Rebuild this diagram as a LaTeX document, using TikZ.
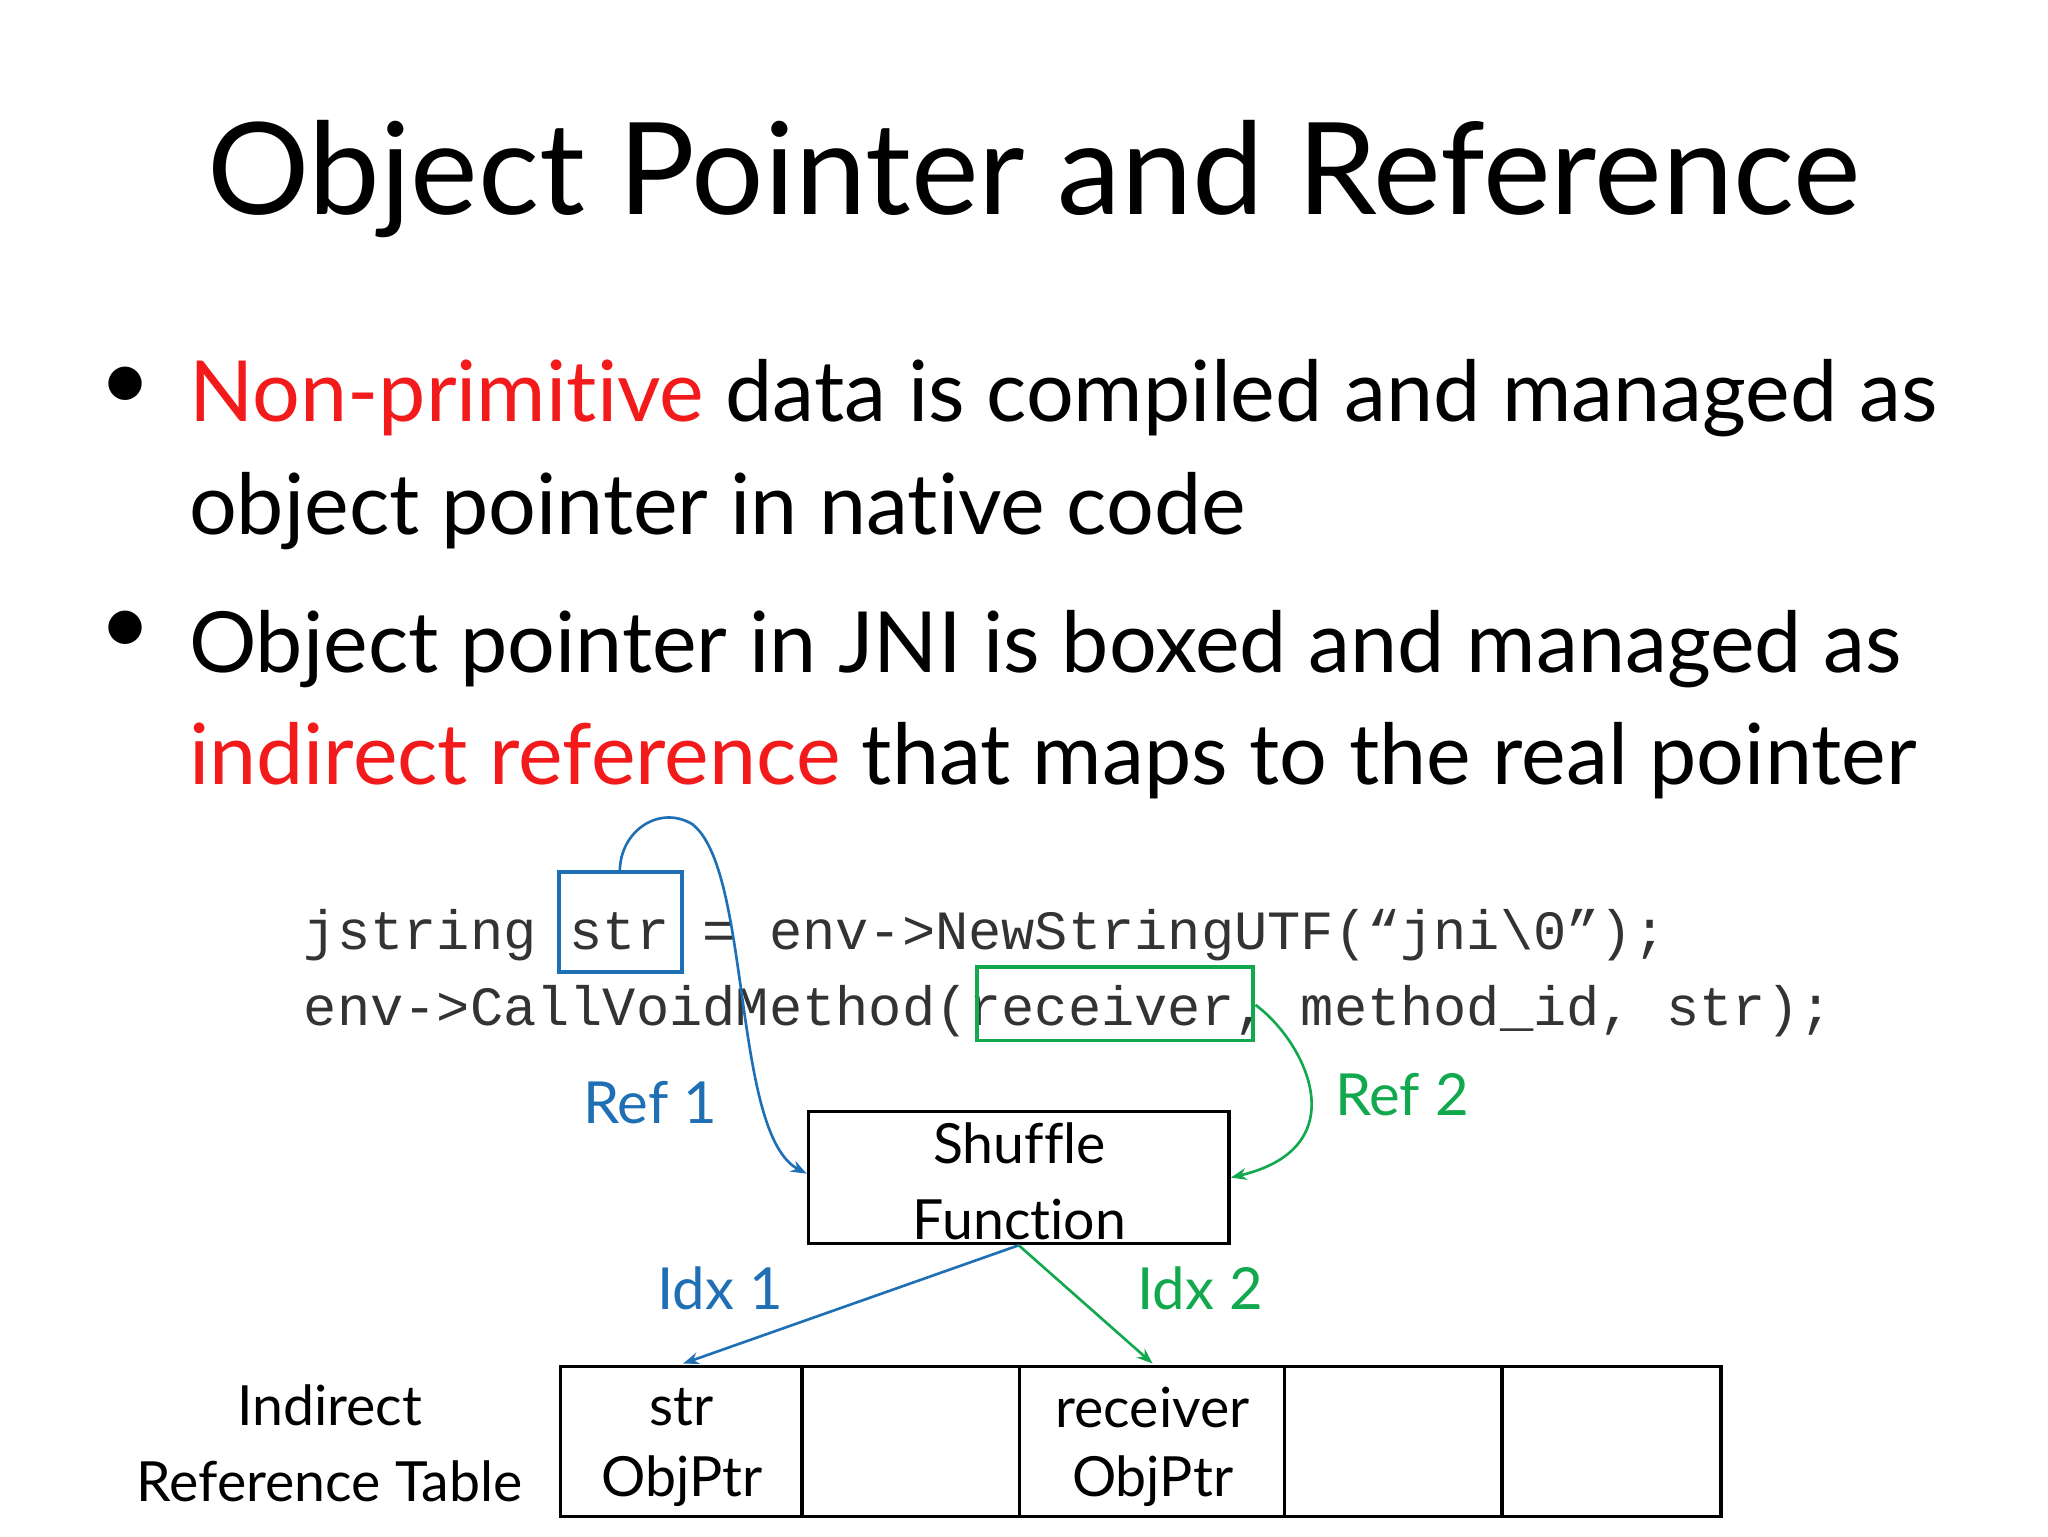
\documentclass[tikz,border=0pt]{standalone}
\usepackage{fontspec}
\setmainfont{Lato}[RawFeature=-liga]
\setmonofont{Liberation Mono}
\definecolor{myred}{HTML}{F21A1A}
\definecolor{myblue}{HTML}{1F6FB5}
\definecolor{mygreen}{HTML}{12A84E}
\usetikzlibrary{arrows.meta}
\begin{document}
\begin{tikzpicture}[x=0.5pt,y=-0.5pt,
  body/.style={anchor=base west,inner sep=0,font=\fontsize{32}{40}\selectfont},
  code/.style={anchor=base west,inner sep=0,font=\ttfamily\fontsize{21}{24}\selectfont,text=black!80},
  lbl/.style={inner sep=0,font=\fontsize{22}{26}\selectfont},
  cell/.style={inner sep=0,font=\fontsize{21}{24}\selectfont}]
\useasboundingbox (0,0) rectangle (1553,1165);
\node[inner sep=0,anchor=base,font=\fontsize{48.5}{56}\selectfont] (title) at (784,163) {Object Pointer and Reference};
\node[inner sep=0,font=\fontsize{34}{40}\selectfont] (b1) at (95,295) {•};
\node[inner sep=0,font=\fontsize{34}{40}\selectfont] (b2) at (95,480) {•};
\node[body] (l1) at (143,320) {\textcolor{myred}{Non-primitive} data is compiled and managed as};
\node[body] (l2) at (143,405) {object pointer in native code};
\node[body] (l3) at (143,510) {Object pointer in JNI is boxed and managed as};
\node[body] (l4) at (143,595) {\textcolor{myred}{indirect reference} that maps to the real pointer};
\node[code] (c1) at (230,720) {jstring str = env->NewStringUTF(“jni\textbackslash0”);};
\node[code] (c2) at (230,778) {env->CallVoidMethod(receiver, method\_id, str);};
\draw[myblue,line width=1.5pt] (424,661) rectangle (517,737);
\coordinate (strtop) at (470,661);
\draw[mygreen,line width=1.5pt] (741,733) rectangle (950,789);
\coordinate (recv) at (952,762);
\node[draw,line width=1.3pt,minimum width=159.5pt,minimum height=50pt,inner sep=0] (sh) at (772.5,893) {};
\node[cell] (sh1) at (773,867) {Shuffle};
\node[cell] (sh2) at (773,925) {Function};
\draw[myblue,line width=1pt,-{Stealth[length=6pt]}] (strtop) .. controls (470,630) and (500,610) .. (525,625) .. controls (570,660) and (555,860) .. (sh.west|-0,890);
\draw[mygreen,line width=1pt,-{Stealth[length=6pt]}] (recv) .. controls (990,790) and (1030,870) .. (sh.east|-0,893);
\node[lbl,text=myblue] (r1) at (493,836) {Ref 1};
\node[lbl,text=mygreen] (r2) at (1063,830) {Ref 2};
\node[lbl,text=myblue] (i1) at (546,977) {Idx 1};
\node[lbl,text=mygreen] (i2) at (910,977) {Idx 2};
\draw[line width=1.3pt] (425,1036) rectangle (1305,1150);
\foreach \x in {608,773,974,1139} \draw[line width=1.3pt] (\x,1036) -- (\x,1150);
\coordinate (ta) at (518,1034);
\coordinate (tb) at (874,1034);
\draw[myblue,line width=1pt,-{Stealth[length=6pt]}] (sh.south) -- (ta);
\draw[mygreen,line width=1pt,-{Stealth[length=6pt]}] (sh.south) -- (tb);
\node[cell] (ir1) at (250,1066) {Indirect};
\node[cell] (ir2) at (250,1123) {Reference Table};
\node[cell] (s1) at (517,1067) {str};
\node[cell] (s2) at (517,1123) {ObjPtr};
\node[cell] (s3) at (874,1067) {receiver};
\node[cell] (s4) at (874,1123) {ObjPtr};
\end{tikzpicture}
\end{document}
